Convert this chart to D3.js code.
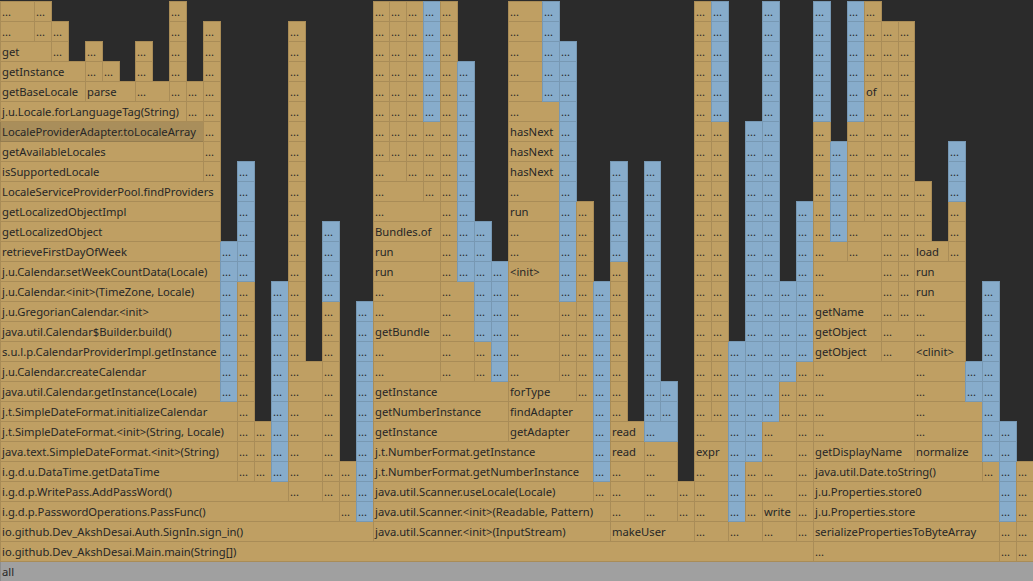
<!DOCTYPE html>
<html><head><meta charset="utf-8">
<script src="https://cdn.jsdelivr.net/npm/d3@7"></script>
<style>
html,body{margin:0;padding:0;background:#2b2b2b;overflow:hidden}
svg{display:block}
</style></head><body>
<svg id="chart" width="1033" height="581"></svg>
<script>
// Frame spec: [labels stacked bottom->top, samples, kind, children]
// kind: j = java frame (tan), n = native/inlined (blue), r = root, h = highlighted
const E = "...";
const dots = n => Array.from({length: n}, () => E);

const localeTagFrames = [
  [["getBaseLocale", "getInstance"], 5, "j", [
    [["get"], 3, "j", [
      [dots(2), 2, "j", []],
      [dots(2), 1, "j", []]
    ]],
    [dots(2), 1, "j", []]
  ]],
  [["parse"], 3, "j", [
    [dots(2), 1, "j", []],
    [dots(1), 1, "j", []]
  ]],
  [dots(1), 2, "j", [[dots(2), 1, "j", []]]],
  [dots(5), 1, "j", []]
];

const localeProviderFrames = [
  [["isSupportedLocale", "getAvailableLocales"], 12, "j", [
    [["LocaleProviderAdapter.toLocaleArray"], 12, "h", [
      [["j.u.Locale.forLanguageTag(String)"], 11, "j", localeTagFrames],
      [dots(2), 1, "j", []]
    ]]
  ]],
  [dots(8), 1, "j", []]
];

const calendarNames = [
  "java.util.Calendar.getInstance(Locale)",
  "j.u.Calendar.createCalendar",
  "s.u.l.p.CalendarProviderImpl.getInstance",
  "java.util.Calendar$Builder.build()",
  "j.u.GregorianCalendar.<init>",
  "j.u.Calendar.<init>(TimeZone, Locale)",
  "j.u.Calendar.setWeekCountData(Locale)",
  "retrieveFirstDayOfWeek",
  "getLocalizedObject",
  "getLocalizedObjectImpl",
  "LocaleServiceProviderPool.findProviders"
];

const calendarFrames = [
  [calendarNames, 13, "j", localeProviderFrames],
  [dots(8), 1, "n", []]
];

const dateFormatNames = [
  "i.g.d.u.DataTime.getDataTime",
  "java.text.SimpleDateFormat.<init>(String)",
  "j.t.SimpleDateFormat.<init>(String, Locale)",
  "j.t.SimpleDateFormat.initializeCalendar"
];

const addPassWordFrames = [
  [dateFormatNames, 14, "j", calendarFrames],
  [dots(10), 1, "j", [[dots(6), 1, "n", []]]],
  [dots(3), 1, "j", []],
  [dots(10), 1, "n", []]
];

const passFuncFrames = [
  [["i.g.d.p.WritePass.AddPassWord()"], 17, "j", addPassWordFrames],
  [dots(7), 2, "j", [[dots(17), 1, "j", []]]],
  [dots(10), 1, "j", [[dots(4), 1, "n", []]]]
];

const signInFrames = [
  [["i.g.d.p.PasswordOperations.PassFunc()"], 20, "j", passFuncFrames],
  [dots(3), 1, "j", []],
  [dots(11), 1, "n", []]
];

const bundleFrames = [
  [[E, E, "getBundle", E, E, "run", "run", "Bundles.of", E], 4, "j", [
    [[E], 3, "j", [
      [[E], 2, "j", [
        [dots(8), 1, "j", []],
        [dots(8), 1, "j", []]
      ]],
      [dots(9), 1, "j", []]
    ]],
    [dots(4), 1, "j", [[dots(6), 1, "n", []]]]
  ]],
  [dots(5), 2, "j", [
    [dots(14), 1, "j", []],
    [dots(11), 1, "n", []]
  ]],
  [dots(2), 1, "j", [[dots(6), 1, "n", []]]],
  [dots(6), 1, "n", []]
];

const hasNextNames = [E, E, E, E, E, "<init>", E, E, "run", E, "hasNext", "hasNext", "hasNext", E];

const adapterFrames = [
  [["forType"], 4, "j", [
    [hasNextNames, 3, "j", [
      [dots(5), 2, "j", []],
      [dots(5), 1, "n", []]
    ]],
    [dots(4), 1, "j", [[dots(13), 1, "n", []]]]
  ]],
  [dots(10), 1, "j", []]
];

const scannerFrames = [
  [["java.util.Scanner.<init>(InputStream)", "java.util.Scanner.<init>(Readable, Pattern)"], 14, "j", [
    [["java.util.Scanner.useLocale(Locale)", "j.t.NumberFormat.getNumberInstance", "j.t.NumberFormat.getInstance"], 13, "j", [
      [["getInstance", "getNumberInstance", "getInstance"], 8, "j", bundleFrames],
      [["getAdapter", "findAdapter"], 5, "j", adapterFrames]
    ]],
    [[E], 1, "j", [[dots(10), 1, "n", []]]]
  ]]
];

const makeUserFrames = [
  [["makeUser"], 5, "j", [
    [[E, E, E, "read", "read"], 2, "j", [
      [dots(8), 1, "j", [[dots(5), 1, "n", []]]]
    ]],
    [dots(4), 2, "j", [
      [[E], 2, "n", [
        [dots(13), 1, "n", []],
        [dots(2), 1, "n", []]
      ]]
    ]],
    [dots(2), 1, "j", []]
  ]]
];

const mainTailFrames = [
  [[E, E, E, E, "expr", E], 2, "j", [
    [dots(21), 1, "j", []],
    [dots(15), 1, "j", [[dots(6), 1, "n", []]]]
  ]],
  [[E], 2, "j", [
    [dots(9), 1, "n", []],
    [dots(3), 1, "j", [[dots(17), 1, "n", []]]]
  ]],
  [[E, "write", E, E, E, E], 2, "j", [
    [dots(21), 1, "n", []],
    [dots(2), 1, "j", [[dots(5), 1, "n", []]]]
  ]],
  [dots(9), 1, "j", [[dots(8), 1, "n", []]]]
];

const displayNameFrames = [
  [["getObject", "getObject", "getName", E, E], 4, "j", [
    [[E], 2, "j", [
      [dots(6), 1, "j", [[dots(6), 1, "n", []]]],
      [dots(5), 1, "n", []]
    ]],
    [[E, E], 2, "j", [
      [dots(5), 1, "j", [[dots(6), 1, "n", []]]],
      [[E, E, E, E, E, E, "of", E, E, E, E], 1, "j", []]
    ]]
  ]],
  [dots(2), 2, "j", [
    [dots(15), 1, "j", []],
    [dots(15), 1, "j", []]
  ]]
];

const normalizeFrames = [
  [[E, E, "<clinit>", E, E, "run", "run"], 3, "j", [
    [["load"], 2, "j", [[dots(3), 1, "j", []]]],
    [dots(3), 1, "j", [[dots(3), 1, "n", []]]]
  ]],
  [dots(2), 1, "n", []]
];

const propertiesFrames = [
  [[E, "serializePropertiesToByteArray", "j.u.Properties.store", "j.u.Properties.store0"], 11, "j", [
    [["java.util.Date.toString()"], 10, "j", [
      [["getDisplayName", E, E, E, E], 6, "j", displayNameFrames],
      [["normalize", E, E], 4, "j", normalizeFrames]
    ]],
    [[E], 1, "j", [[dots(9), 1, "n", []]]]
  ]]
];

const rootFrame = [["all"], 61, "r", [
  [["io.github.Dev_AkshDesai.Main.main(String[])"], 48, "j", [
    [["io.github.Dev_AkshDesai.Auth.SignIn.sign_in()"], 22, "j", signInFrames],
    ...scannerFrames,
    ...makeUserFrames,
    ...mainTailFrames
  ]],
  ...propertiesFrames,
  [dots(2), 1, "j", [[dots(5), 1, "n", []]]],
  [dots(5), 1, "j", []]
]];

// ---------- build ----------
const W = 1033, H = 581, ROW = 20;
const fills = {j: "#bf9f63", n: "#87accb", r: "#a0a0a0", h: "#a98e5b"};

function expand(spec) {
  const [labels, samples, kind, kids] = spec;
  let bottom = null, top = null;
  labels.forEach(l => {
    const node = {name: l, samples, kind, children: []};
    if (top) top.children.push(node); else bottom = node;
    top = node;
  });
  top.children = kids.map(expand);
  return bottom;
}

const root = d3.hierarchy(expand(rootFrame), d => d.children.length ? d.children : null);
root.each(n => { n.value = n.data.samples; });
d3.partition().size([1, root.height + 1]).padding(0)(root);

const x = d3.scaleLinear().domain([0, 1]).range([0, W]);
const y = d3.scaleLinear().domain([0, root.height + 1]).range([H, H - ROW * (root.height + 1)]);

const svg = d3.select("#chart");
svg.append("rect").attr("width", W).attr("height", H).attr("fill", "#2b2b2b");

const fontFamily = "'Segoe UI','Noto Sans','Open Sans',sans-serif";
// fit font size so the longest reference label matches the original width
const probe = svg.append("text").attr("font-family", fontFamily).attr("font-size", 12)
  .text("LocaleProviderAdapter.toLocaleArray");
const probeW = probe.node().getComputedTextLength();
probe.remove();
const fontSize = Math.max(10, Math.min(13.5, 12 * 194 / probeW));

const frames = svg.append("g").selectAll("g")
  .data(root.descendants())
  .join("g");

frames.append("rect")
  .attr("x", d => Math.round(x(d.x0)) + 0.5)
  .attr("y", d => Math.round(y(d.y1)) + 0.5)
  .attr("width", d => Math.round(x(d.x1)) - Math.round(x(d.x0)))
  .attr("height", ROW)
  .attr("fill", d => fills[d.data.kind])
  .attr("stroke", d => d3.color(fills[d.data.kind]).darker(0.35))
  .attr("stroke-width", 1);

frames.append("text")
  .attr("x", d => Math.round(x(d.x0)) + 2)
  .attr("y", d => Math.round(y(d.y1)) + 15)
  .attr("font-family", fontFamily)
  .attr("font-size", fontSize)
  .attr("fill", "#262626")
  .text(d => d.data.name);
</script>
</body></html>
